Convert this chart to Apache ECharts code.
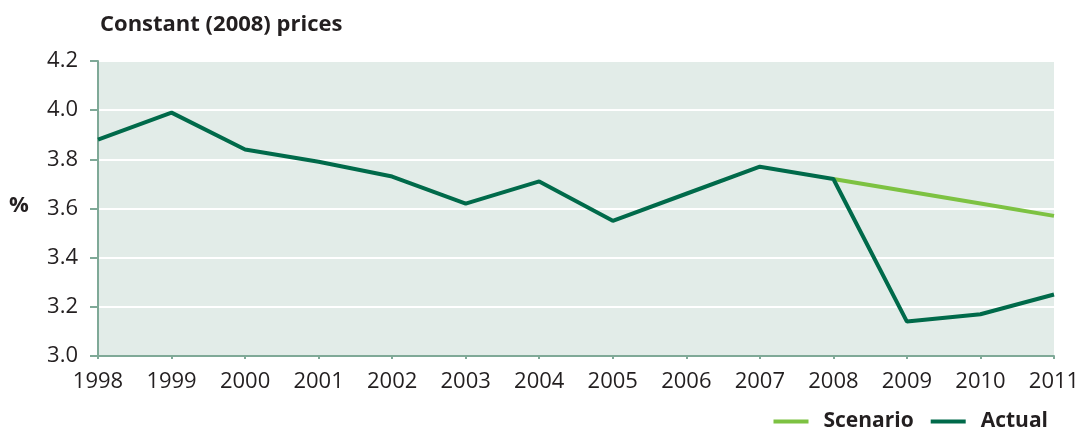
<!DOCTYPE html>
<html>
<head>
<meta charset="utf-8">
<script src="https://cdn.jsdelivr.net/npm/echarts@6/dist/echarts.min.js"></script>
<style>html,body{margin:0;padding:0;background:#fff}#c{width:1077px;height:432px}</style>
</head>
<body>
<div id="c"></div>
<script>
const years = ['1998','1999','2000','2001','2002','2003','2004','2005','2006','2007','2008','2009','2010','2011'];
const actual = [3.88, 3.99, 3.84, 3.79, 3.73, 3.62, 3.71, 3.55, 3.66, 3.77, 3.72, 3.14, 3.17, 3.25];
const scenario = [null, null, null, null, null, null, null, null, null, null, 3.72, 3.67, 3.62, 3.57];
const yTicks = [3.0, 3.2, 3.4, 3.6, 3.8, 4.0, 4.2];

const font = '"Open Sans", "Noto Sans", sans-serif';
const chart = echarts.init(document.getElementById('c'), null, {renderer: 'canvas'});
chart.setOption({
  animation: false,
  title: {
    text: 'Constant (2008) prices',
    left: 95, top: 9,
    textStyle: {fontFamily: font, fontSize: 22, fontWeight: 'bold', color: '#231f20'}
  },
  graphic: [{
    type: 'text', left: 9, top: 195,
    style: {text: '%', font: 'bold 22px ' + font, fill: '#231f20'}
  }],
  legend: {
    right: 24, top: 406,
    itemWidth: 35, itemHeight: 4, itemGap: 17,
    icon: 'rect',
    textStyle: {fontFamily: font, fontSize: 21, fontWeight: 'bold', color: '#231f20', padding: [0, 0, 0, 10]},
    data: ['Scenario', 'Actual']
  },
  grid: {
    left: 98, right: 23, top: 61, bottom: 76,
    outerBoundsMode: 'none',
    show: true, backgroundColor: '#e2ece8', borderWidth: 0
  },
  xAxis: {
    type: 'category', data: years, boundaryGap: false,
    axisLine: {lineStyle: {color: '#7fa997', width: 2}},
    axisTick: {show: true, length: 3, lineStyle: {color: '#7fa997', width: 2}},
    axisLabel: {fontFamily: font, fontSize: 22, color: '#231f20', margin: 15},
    splitLine: {show: false}
  },
  yAxis: {
    type: 'value', min: yTicks[0], max: yTicks[yTicks.length-1], interval: 0.2,
    axisLine: {show: true, lineStyle: {color: '#7fa997', width: 2}},
    axisTick: {show: true, length: 8, lineStyle: {color: '#7fa997', width: 2}},
    axisLabel: {fontFamily: font, fontSize: 22, color: '#231f20', margin: 20,
      formatter: v => v.toFixed(1)},
    splitLine: {show: true, lineStyle: {color: '#ffffff', width: 2}}
  },
  series: [
    {name: 'Scenario', type: 'line', data: scenario, symbol: 'none',
      lineStyle: {color: '#7dc242', width: 4}, itemStyle: {color: '#7dc242'}, z: 2},
    {name: 'Actual', type: 'line', data: actual, symbol: 'none',
      lineStyle: {color: '#006a4a', width: 4}, itemStyle: {color: '#006a4a'}, z: 3}
  ]
});
</script>
</body>
</html>
